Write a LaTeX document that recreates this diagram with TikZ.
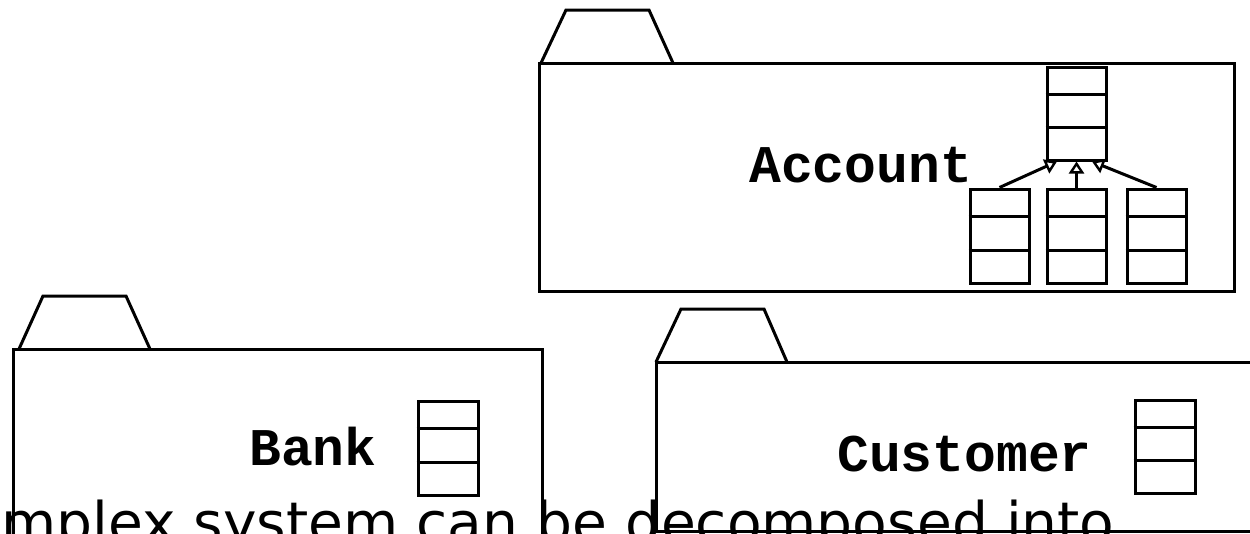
\documentclass[tikz,border=0pt]{standalone}
\usepackage{fontspec}
\setmainfont{DejaVu Sans}
\setmonofont{Liberation Mono}
\usetikzlibrary{arrows.meta,calc}
\begin{document}
\begin{tikzpicture}[x=1pt,y=-1pt,line join=miter,
  pkg/.style={draw=black,line width=3pt},
  cls/.style={draw=black,line width=3pt,inner sep=0pt,minimum width=59pt,minimum height=93pt},
  pkgname/.style={font=\ttfamily\bfseries\fontsize{53}{53}\selectfont,inner sep=0pt,anchor=base west},
  gen/.style={-{Triangle[open,width=15pt,length=12pt,line width=2.4pt]},line width=3pt}]
\useasboundingbox (0,0) rectangle (1250,533);
\clip (0,0) rectangle (1250,533);

% compartment lines of a class box
\newcommand{\classlines}[1]{%
  \draw[line width=3pt] ($(#1.north west)!0.30!(#1.south west)$) -- ($(#1.north east)!0.30!(#1.south east)$);
  \draw[line width=3pt] ($(#1.north west)!0.65!(#1.south west)$) -- ($(#1.north east)!0.65!(#1.south east)$);}

% Account package
\draw[pkg] (541,63) -- (566,10) -- (649,10) -- (673,63);
\draw[pkg] (539,63) rectangle (1234,291);
\node[pkgname] (accname) at (749,182) {Account};
\node[cls] (acc) at (1076.5,113.5) {};
\node[cls,minimum height=94pt] (l1) at (999.5,236) {};
\node[cls,minimum height=94pt] (m1) at (1076.5,236) {};
\node[cls,minimum height=94pt] (r1) at (1156.5,236) {};
\classlines{acc}\classlines{l1}\classlines{m1}\classlines{r1}
\draw[gen] (l1.north) -- ($(acc.south)+(-19.5,0)$);
\draw[gen] (m1.north) -- (acc.south);
\draw[gen] (r1.north) -- ($(acc.south)+(15.5,0)$);

% Bank package
\draw[pkg] (19,349) -- (43,296) -- (126,296) -- (150,349);
\draw[pkg] (13,349) rectangle (542,600);
\node[pkgname] (bankname) at (249,465) {Bank};
\node[cls,minimum width=60pt,minimum height=94pt] (bankc) at (448,448) {};
\classlines{bankc}

% Customer package
\draw[pkg] (656,362) -- (681,309) -- (764,309) -- (787,362);
\draw[pkg] (656,362) rectangle (1300,531);
\node[pkgname] (custname) at (837,471) {Customer};
\node[cls,minimum width=60pt] (custc) at (1165,446.5) {};
\classlines{custc}

% caption line running below the frame
\node[font=\fontsize{56}{56}\selectfont,inner sep=0pt,anchor=base west,xscale=1.012] (caption) at (1,542) {mplex system can be decomposed into};
\end{tikzpicture}
\end{document}
